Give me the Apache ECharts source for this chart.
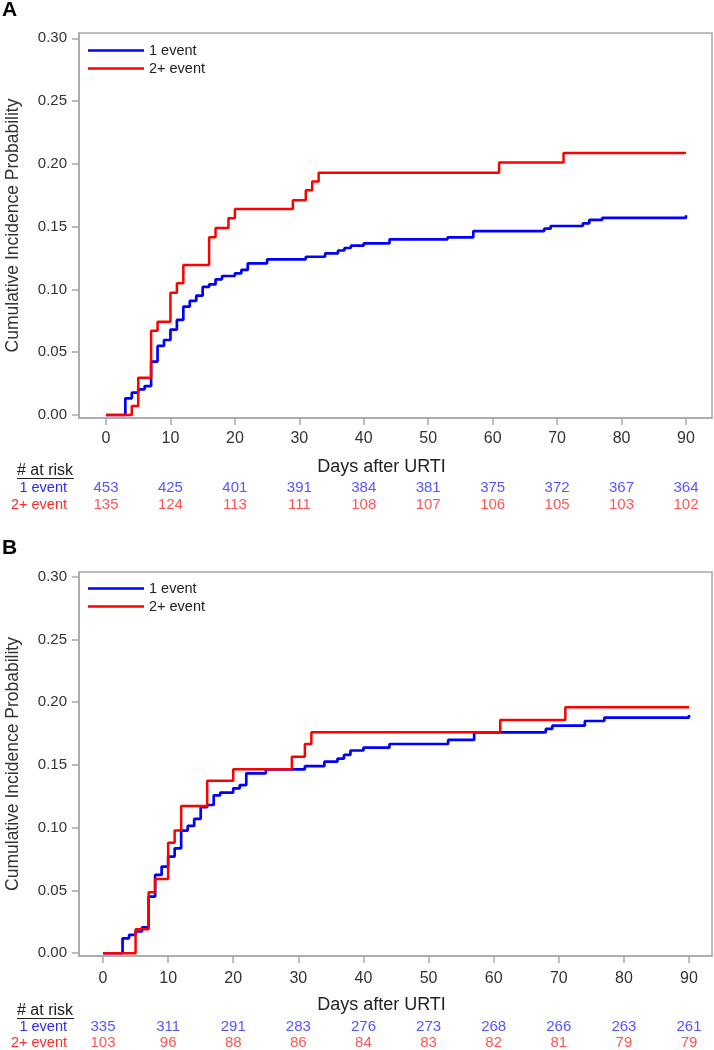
<!DOCTYPE html>
<html>
<head>
<meta charset="utf-8">
<script src="https://cdn.jsdelivr.net/npm/echarts@6/dist/echarts.min.js"></script>
<style>
html,body{margin:0;padding:0;background:#fff;}
#chart{width:714px;height:1050px;}
</style>
</head>
<body>
<div id="chart"></div>
<script>
// ---------- data ----------
const seriesNames = ['1 event', '2+ event'];
const xTicks = [0, 10, 20, 30, 40, 50, 60, 70, 80, 90];
const yTicks = [0, 0.05, 0.10, 0.15, 0.20, 0.25, 0.30];
const riskDays = [0, 10, 20, 30, 40, 50, 60, 70, 80, 90];

// Panel A: [day, cumulative incidence]
const panelA_one = [[0,0],[3,0.0133],[4,0.0178],[5,0.0204],[6,0.023],[7,0.0425],[8,0.055],[9,0.0597],[10,0.068],[11,0.0757],[12,0.0863],[13,0.0908],[14,0.095],[15,0.102],[16,0.104],[17,0.108],[18,0.1107],[20,0.1128],[21,0.1155],[22,0.1208],[25,0.124],[31,0.126],[34,0.1287],[36,0.131],[37,0.133],[38,0.1348],[40,0.1367],[44,0.1399],[53,0.1415],[57,0.1465],[68,0.1484],[69,0.1505],[74,0.1526],[75,0.1553],[77,0.1569],[90,0.159]];
const panelA_two = [[0,0],[4,0.0072],[5,0.0297],[7,0.067],[8,0.0743],[10,0.0974],[11,0.105],[12,0.1195],[16,0.1415],[17,0.149],[19,0.1566],[20,0.164],[29,0.171],[31,0.179],[32,0.186],[33,0.193],[61,0.201],[71,0.2087],[90,0.2087]];
const riskA_one = [453, 425, 401, 391, 384, 381, 375, 372, 367, 364];
const riskA_two = [135, 124, 113, 111, 108, 107, 106, 105, 103, 102];

// Panel B
const panelB_one = [[0,0],[3,0.0119],[4,0.0146],[5,0.0173],[6,0.0207],[7,0.0451],[8,0.0624],[9,0.069],[10,0.077],[11,0.0836],[12,0.0977],[13,0.1014],[14,0.107],[15,0.1163],[16,0.1181],[17,0.1258],[18,0.128],[20,0.1314],[21,0.134],[22,0.1433],[25,0.1465],[31,0.149],[34,0.1526],[36,0.155],[37,0.158],[38,0.1615],[40,0.1638],[44,0.1667],[53,0.1699],[57,0.176],[68,0.1787],[69,0.1813],[74,0.185],[77,0.1877],[90,0.1898]];
const panelB_two = [[0,0],[5,0.0191],[7,0.0486],[8,0.0592],[10,0.0881],[11,0.0977],[12,0.1173],[16,0.1375],[20,0.1465],[29,0.1566],[31,0.1667],[32,0.176],[61,0.1858],[71,0.196],[90,0.196]];
const riskB_one = [335, 311, 291, 283, 276, 273, 268, 266, 263, 261];
const riskB_two = [103, 96, 88, 86, 84, 83, 82, 81, 79, 79];

// ---------- style ----------
const FONT = "'Liberation Sans', Arial, sans-serif";
const BLUE = '#0000ff', RED = '#ff0000';
const BLUE_T = '#2a2aff', RED_T = '#ff2a2a';
const AXIS_C = '#a8a8a8';

const panels = [
  {top: 33, height: 385, xmin: -4.19, xmax: 94.04, ymin: -0.0024, ymax: 0.3042, xMargin: 13,
   one: panelA_one, two: panelA_two, r1: riskA_one, r2: riskA_two, riskTop: 479, riskH: 34, legendTop: 43, label: 'A', labelY: 10},
  {top: 572, height: 384, xmin: -3.69, xmax: 93.53, ymin: -0.0022, ymax: 0.3037, xMargin: 15,
   one: panelB_one, two: panelB_two, r1: riskB_one, r2: riskB_two, riskTop: 1019, riskH: 32, legendTop: 581, label: 'B', labelY: 548}
];

const grid = [], xAxis = [], yAxis = [], series = [], legend = [], graphic = [];
panels.forEach((p, k) => {
  const gi = grid.length;
  grid.push({left: 79, top: p.top, width: 633, height: p.height, show: true, borderColor: AXIS_C, borderWidth: 1.5,
    backgroundColor: '#fff', containLabel: false, outerBoundsMode: 'none'});
  xAxis.push({
    type: 'value', gridIndex: gi, min: p.xmin, max: p.xmax,
    axisLine: {show: true, onZero: false, lineStyle: {color: AXIS_C, width: 1.5}},
    axisTick: {show: true, length: 7, customValues: xTicks, lineStyle: {color: AXIS_C, width: 1.5}},
    axisLabel: {customValues: xTicks, fontSize: 16, color: '#333', margin: p.xMargin, fontFamily: FONT},
    splitLine: {show: false},
    name: 'Days after URTI', nameLocation: 'middle', nameGap: 40,
    nameTextStyle: {fontSize: 18, color: '#222', fontFamily: FONT, padding: [0, 28, 0, 0]}
  });
  yAxis.push({
    type: 'value', gridIndex: gi, min: p.ymin, max: p.ymax,
    axisLine: {show: true, onZero: false, lineStyle: {color: AXIS_C, width: 1.5}},
    axisTick: {show: true, length: 7, customValues: yTicks, lineStyle: {color: AXIS_C, width: 1.5}},
    axisLabel: {customValues: yTicks, fontSize: 15, color: '#333', margin: 12, fontFamily: FONT,
      formatter: v => v.toFixed(2)},
    splitLine: {show: false},
    name: 'Cumulative Incidence Probability', nameLocation: 'middle', nameGap: 57, nameRotate: 90,
    nameTextStyle: {fontSize: 17.5, color: '#333', fontFamily: FONT}
  });
  series.push({
    name: seriesNames[0], type: 'line', step: 'end', xAxisIndex: gi, yAxisIndex: gi,
    data: p.one, showSymbol: false, symbol: 'none', color: BLUE,
    lineStyle: {color: BLUE, width: 2.7}, z: 3
  });
  series.push({
    name: seriesNames[1], type: 'line', step: 'end', xAxisIndex: gi, yAxisIndex: gi,
    data: p.two, showSymbol: false, symbol: 'none', color: RED,
    lineStyle: {color: RED, width: 2.5}, z: 4
  });
  legend.push({
    left: 88, top: p.legendTop, orient: 'vertical', itemWidth: 56, itemHeight: 2.6, itemGap: 3,
    padding: 0, selectedMode: false, icon: 'rect',
    data: seriesNames.map(n => ({name: n, icon: 'rect'})),
    textStyle: {fontSize: 14.5, lineHeight: 15, color: '#222', fontFamily: FONT}
  });

  // at-risk table grid
  const ri = grid.length;
  grid.push({left: 79, top: p.riskTop, width: 633, height: p.riskH, show: false, containLabel: false, outerBoundsMode: 'none'});
  xAxis.push({type: 'value', gridIndex: ri, min: p.xmin, max: p.xmax, show: false});
  yAxis.push({
    type: 'category', gridIndex: ri, inverse: true, data: seriesNames,
    axisLine: {show: false}, axisTick: {show: false}, splitLine: {show: false},
    axisLabel: {interval: 0, fontSize: 14.5, margin: 12, fontFamily: FONT,
      color: (v) => v === seriesNames[0] ? BLUE_T : RED_T}
  });
  [[p.r1, BLUE_T, 0], [p.r2, RED_T, 1]].forEach(([arr, col, row]) => {
    series.push({
      type: 'scatter', name: 'risk' + k + row, xAxisIndex: ri, yAxisIndex: ri,
      symbolSize: 1, itemStyle: {color: 'rgba(0,0,0,0)'}, silent: true,
      data: arr.map((n, i) => [riskDays[i], row, n]),
      label: {show: true, position: 'inside', formatter: q => String(q.value[2]),
        fontSize: 15, color: col, fontFamily: FONT}
    });
  });

  // "# at risk" header and panel letter
  const hy = p.riskTop - 8;
  graphic.push({type: 'text', x: 17, y: hy, style: {text: '# at risk', fill: '#222', font: '16px ' + FONT, verticalAlign: 'middle'}});
  graphic.push({type: 'line', shape: {x1: 17, y1: hy + 7.5, x2: 74, y2: hy + 7.5}, style: {stroke: '#222', lineWidth: 1}});
  graphic.push({type: 'text', x: 2, y: p.labelY, style: {text: p.label, fill: '#000', font: 'bold 21px ' + FONT, verticalAlign: 'middle'}});
});

const chart = echarts.init(document.getElementById('chart'), null, {renderer: 'canvas'});
chart.setOption({
  animation: false,
  backgroundColor: '#fff',
  grid, xAxis, yAxis, series, legend, graphic
});
</script>
</body>
</html>
